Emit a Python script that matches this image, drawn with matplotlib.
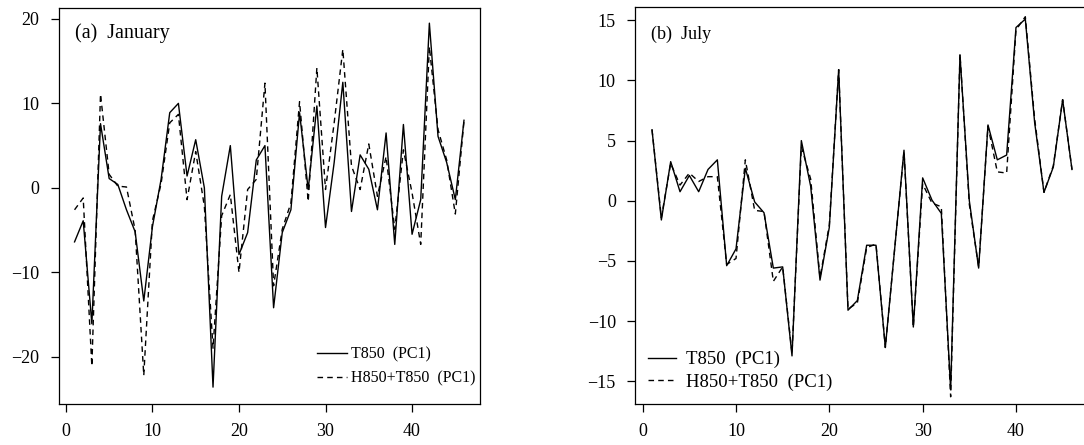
import numpy as np
import matplotlib
matplotlib.use("Agg")
import matplotlib.pyplot as plt

plt.rcParams['font.family'] = ['Liberation Serif', 'DejaVu Serif']
plt.rcParams['font.size'] = 12

# ---- data ----
years = np.arange(1, 47)

jan_t850 = [-6.4, -3.9, -16.1, 7.6, 1.1, 0.4, -2.6, -5.2, -13.4, -4.6,
            1.0, 8.9, 10.0, 1.4, 5.7, 0.0, -23.6, -1.0, 5.0, -7.9,
            -5.3, 3.3, 5.0, -14.2, -5.3, -2.6, 8.9, -0.2, 9.7, -4.7,
            3.0, 12.5, -2.8, 3.9, 2.2, -2.6, 6.5, -6.7, 7.5, -5.5,
            -1.4, 19.5, 6.1, 3.0, -1.4, 8.0]
jan_h850_t850 = [-2.6, -1.2, -21.1, 11.1, 1.6, 0.2, 0.1, -5.0, -22.2, -3.9,
                 0.5, 7.7, 8.7, -1.4, 4.3, -2.2, -19.0, -3.3, -0.8, -10.0,
                 -0.2, 1.0, 12.4, -11.6, -4.9, -1.8, 10.2, -1.6, 14.2, -0.2,
                 7.7, 16.4, 2.6, -0.2, 5.2, -1.0, 3.7, -4.9, 4.5, -0.6,
                 -6.7, 16.7, 6.9, 3.3, -3.1, 7.9]

jul_t850 = [5.9, -1.6, 3.25, 0.75, 2.1, 0.75, 2.6, 3.4, -5.4, -4.0,
            2.7, -0.1, -1.0, -5.6, -5.5, -12.9, 5.0, 1.2, -6.6, -2.2,
            10.9, -9.1, -8.3, -3.7, -3.7, -12.2, -4.0, 4.2, -10.5, 1.9,
            0.05, -1.05, -15.7, 12.1, 0.0, -5.6, 6.3, 3.4, 3.8, 14.4,
            15.1, 6.5, 0.7, 2.8, 8.4, 2.6]
jul_h850_t850 = [5.9, -1.4, 3.1, 1.3, 2.3, 1.6, 2.0, 2.0, -5.3, -4.8,
                 3.4, -0.8, -0.9, -6.7, -5.5, -12.7, 4.5, 1.8, -6.4, -2.0,
                 10.9, -9.0, -8.5, -3.9, -3.6, -12.2, -4.0, 4.1, -10.5, 1.4,
                 -0.2, -0.5, -16.3, 12.2, -0.3, -5.5, 6.2, 2.4, 2.3, 14.2,
                 15.3, 6.8, 0.7, 2.9, 8.4, 2.6]

labels = ['T850  (PC1)', 'H850+T850  (PC1)']
dash = (0, (4, 3))

fig = plt.figure(figsize=(10.84, 4.45), dpi=100)
ax1 = fig.add_axes([0.0544, 0.0921, 0.388, 0.890])
ax2 = fig.add_axes([0.586, 0.0921, 0.4184, 0.892])


def style(ax, yticks, ylim):
    ax.set_xlim(-0.8, 47.8)
    ax.set_ylim(*ylim)
    ax.set_xticks([0, 10, 20, 30, 40])
    ax.set_yticks(yticks)
    ax.tick_params(direction='out', length=6, width=0.9, pad=8, labelsize=13)
    for s in ax.spines.values():
        s.set_linewidth(0.9)


# (a) January
ax1.plot(years, jan_t850, color='black', lw=1.0, label=labels[0])
ax1.plot(years, jan_h850_t850, color='black', lw=1.0, linestyle=dash, label=labels[1])
style(ax1, [-20, -10, 0, 10, 20], (-25.6, 21.3))
ax1.text(0.038, 0.925, '(a)  January', transform=ax1.transAxes, fontsize=14.5)
ax1.legend(loc='lower right', bbox_to_anchor=(1.021, 0.012), frameon=False,
           fontsize=11.5, handlelength=1.9, handletextpad=0.25,
           labelspacing=0.5, borderaxespad=0.4)

# (b) July
ax2.plot(years, jul_t850, color='black', lw=1.0, label=labels[0])
ax2.plot(years, jul_h850_t850, color='black', lw=1.0, linestyle=dash, label=labels[1])
style(ax2, [-15, -10, -5, 0, 5, 10, 15], (-16.9, 16.1))
ax2.text(0.035, 0.92, '(b)  July', transform=ax2.transAxes, fontsize=13)
ax2.legend(loc='lower left', bbox_to_anchor=(0.0, 0.0), frameon=False,
           fontsize=13.5, handlelength=1.5, handletextpad=0.5,
           labelspacing=0.28, borderaxespad=0.3)

fig.savefig('out.png', dpi=100)
